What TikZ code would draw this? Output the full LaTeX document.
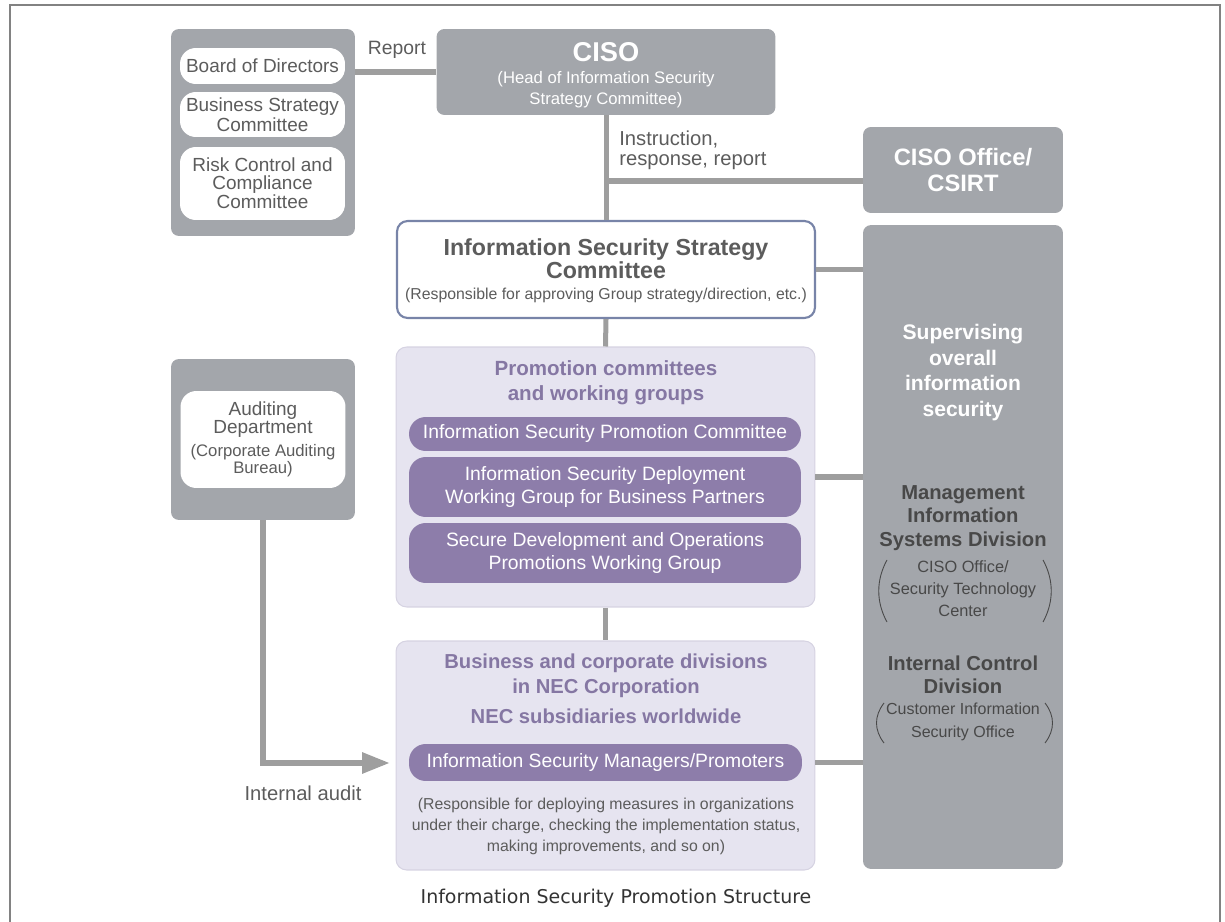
\documentclass[tikz,border=0pt]{standalone}
\usepackage{fontspec}
\setmainfont{Liberation Sans}
\newfontfamily\capfont{DejaVu Sans}
\usetikzlibrary{arrows.meta}
\newcommand{\fsz}[2]{\fontsize{#1}{#2}\selectfont}
\definecolor{panelgray}{RGB}{163,166,171}
\definecolor{linkgray}{RGB}{158,158,158}
\definecolor{txtgray}{RGB}{92,92,92}
\definecolor{darktext}{RGB}{72,72,72}
\definecolor{lavfill}{RGB}{230,228,240}
\definecolor{lavline}{RGB}{214,211,226}
\definecolor{pillpurple}{RGB}{141,125,170}
\definecolor{purpletext}{RGB}{133,119,163}
\definecolor{isscline}{RGB}{120,132,168}
\definecolor{framegray}{RGB}{130,130,130}
\tikzset{
	panel/.style={fill=panelgray, rounded corners=4.5pt, inner sep=0pt},
	wbox/.style={fill=white, rounded corners=9pt, text=txtgray, align=center, inner sep=0pt, minimum width=3.3cm, font=\fsz{10.8}{10}},
	pill/.style={fill=pillpurple, rounded corners=9.5pt, text=white, align=center, inner sep=0pt, minimum width=7.84cm, font=\fsz{11}{13}},
	lavbox/.style={fill=lavfill, draw=lavline, line width=0.6pt, rounded corners=6pt, inner sep=0pt, minimum width=8.38cm},
	lbl/.style={text=txtgray, align=center, inner sep=0pt},
	link/.style={draw=linkgray, line width=2.85pt},
}

\begin{document}
\begin{tikzpicture}[x=0.02cm, y=-0.02cm]
	\useasboundingbox (0,0) rectangle (1225,922);
	\draw[framegray, line width=1pt] (10,922) -- (10,5) -- (1220,5) -- (1220,922);
	% left column
	\node[panel, minimum width=3.68cm, minimum height=4.14cm] (brd) at (263,132.5) {};
	\node[wbox, minimum height=0.72cm] (board) at (262.5,66) {Board of Directors};
	\node[wbox, minimum height=0.9cm] (bsc) at (262.5,114.5) {Business Strategy\\Committee};
	\node[wbox, minimum height=1.46cm] (risk) at (262.5,183.5) {Risk Control and\\Compliance\\Committee};
	\node[panel, minimum width=3.68cm, minimum height=3.22cm] (aud) at (263,439.5) {};
	\node[wbox, minimum height=1.94cm] (audin) at (263,439.5) {Auditing\\Department\\[3pt]\fsz{9.5}{10}(Corporate Auditing\\\fsz{9.5}{10}Bureau)};
	% top
	\node[panel, minimum width=6.78cm, minimum height=1.72cm] (ciso) at (606,72) {};
	\node[text=white, font=\fsz{15.5}{15}\bfseries, inner sep=0pt] (cisot) at (606,52) {CISO};
	\node[text=white, font=\fsz{9.5}{12}, align=center, inner sep=0pt] (cisos) at (606,89.5) {(Head of Information Security\\Strategy Committee)};
	\node[lbl, font=\fsz{11}{11}] (report) at (397,50) {Report};
	\node[lbl, font=\fsz{11.5}{11.5}, align=left, anchor=west] (instr) at (619,150) {Instruction,\\response, report};
	\node[panel, text=white, font=\fsz{13.5}{14.5}\bfseries, align=center, minimum width=4cm, minimum height=1.72cm] (cisooff) at (963,170) {CISO Office/\\CSIRT};
	% middle column
	\node[draw=isscline, line width=1.2pt, fill=white, rounded corners=6pt, minimum width=8.36cm, minimum height=1.94cm] (issc) at (606,269.5) {};
	\node[lbl, font=\fsz{13.2}{13}\bfseries] (issct) at (606,258.5) {Information Security Strategy\\Committee};
	\node[lbl, font=\fsz{9}{10}] (isscs) at (606,295) {(Responsible for approving Group strategy/direction, etc.)};
	\node[lavbox, minimum height=5.2cm] (promo) at (605.5,477) {};
	\node[lbl, text=purpletext, font=\fsz{11.7}{14.2}\bfseries] (promot) at (606,382.5) {Promotion committees\\and working groups};
	\node[pill, minimum height=0.68cm] (pill1) at (605,434) {Information Security Promotion Committee};
	\node[pill, minimum height=1.2cm] (pill2) at (605,487) {Information Security Deployment\\Working Group for Business Partners};
	\node[pill, minimum height=1.2cm] (pill3) at (605,553) {Secure Development and Operations\\Promotions Working Group};
	\node[lavbox, minimum height=4.58cm] (biz) at (605.5,755.5) {};
	\node[lbl, text=purpletext, font=\fsz{11.5}{14.2}\bfseries] (bizt) at (606,675.5) {Business and corporate divisions\\in NEC Corporation};
	\node[lbl, text=purpletext, font=\fsz{11.5}{14.2}\bfseries] (nec) at (606,716) {NEC subsidiaries worldwide};
	\node[pill, minimum width=7.86cm, minimum height=0.74cm] (pill4) at (605.5,762.5) {Information Security Managers/Promoters};
	\node[lbl, font=\fsz{9}{12}] (bizd) at (606,826) {(Responsible for deploying measures in organizations\\under their charge, checking the implementation status,\\making improvements, and so on)};
	% right column
	\node[panel, minimum width=4cm, minimum height=12.88cm] (sup) at (963,547) {};
	\node[text=white, font=\fsz{12}{14.7}\bfseries, align=center, inner sep=0pt] (supt) at (963,372.5) {Supervising\\overall\\information\\security};
	\node[lbl, text=darktext, font=\fsz{11.5}{13.3}\bfseries] (mis) at (963,518) {Management\\Information\\Systems Division};
	\node[lbl, text=darktext, font=\fsz{9.3}{12.5}] (miss) at (963,589) {CISO Office/\\Security Technology\\Center};
	\node[lbl, text=darktext, font=\fsz{11.5}{13.3}\bfseries] (icd) at (963,675) {Internal Control\\Division};
	\node[lbl, text=darktext, font=\fsz{9.1}{13}] (icds) at (963,721.5) {Customer Information\\Security Office};
	\draw[darktext, line width=0.5pt] (887,560) .. controls (876,580) and (876,602) .. (887,622);
	\draw[darktext, line width=0.5pt] (1043,560) .. controls (1054,580) and (1054,602) .. (1043,622);
	\draw[darktext, line width=0.5pt] (884,703) .. controls (874,716) and (874,730) .. (884,743);
	\draw[darktext, line width=0.5pt] (1045,703) .. controls (1055,716) and (1055,730) .. (1045,743);
	% connectors
	\draw[link] (ciso.west) -- (ciso.west -| brd.east);
	\draw[link] (ciso.south) -- (issc.north);
	\coordinate (tee) at (606,181);
	\draw[link] (tee) -- (tee -| cisooff.west);
	\draw[link] (issc.east) -- (issc.east -| sup.west);
	\draw[link] (issc.south) -- (promo.north);
	\draw[link] (promo.east) -- (promo.east -| sup.west);
	\draw[link] (promo.south) -- (biz.north);
	\draw[link] (pill4 -| biz.east) -- (pill4 -| sup.west);
	\coordinate (auditin) at (390,763);
	\draw[link, line width=3.4pt, -{Triangle[length=0.56cm, width=0.4cm]}] (aud.south) |- (auditin);
	\node[lbl, font=\fsz{11.5}{11.5}] (ia) at (303,793) {Internal audit};
	\node[font=\capfont\fsz{10.8}{11}, text=black!80, inner sep=0pt] (cap) at (616,898) {Information Security Promotion Structure};
\end{tikzpicture}
\end{document}
